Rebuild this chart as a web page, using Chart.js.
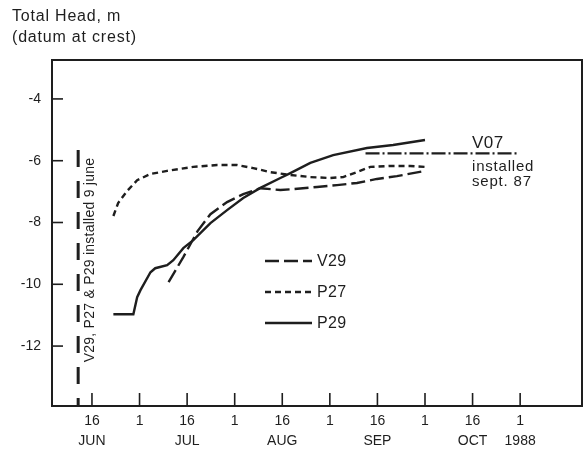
<!DOCTYPE html>
<html><head><meta charset="utf-8">
<script src="https://cdn.jsdelivr.net/npm/chart.js@4"></script>
<style>html,body{margin:0;padding:0;background:#fff;}#wrap{width:587px;height:456px;position:relative;}</style>
</head><body><div id="wrap"><canvas id="c" width="587" height="456"></canvas></div>
<script>
// x unit = half-month tick index (0 = 16 JUN, 1 = 1 JUL, ... 9 = 1 [1988])
const xTickPos   = [0,1,2,3,4,5,6,7,8,9];
const xTickDay   = ['16','1','16','1','16','1','16','1','16','1'];
const xTickMonth = ['JUN','','JUL','','AUG','','SEP','','OCT','1988'];
const yTicks     = [-12,-10,-8,-6,-4];

const p29X = [0.45,0.87,0.95,1.02,1.23,1.33,1.58,1.71,1.92,2.13,2.49,2.84,3.18,3.54,3.96,4.17,4.59,5.07,5.78,6.33,7.00];
const p29Y = [-10.97,-10.97,-10.42,-10.19,-9.61,-9.48,-9.38,-9.22,-8.83,-8.57,-8.02,-7.60,-7.21,-6.88,-6.56,-6.40,-6.07,-5.82,-5.59,-5.49,-5.33];

const p27X = [0.45,0.55,0.74,0.95,1.23,1.58,2.13,2.63,3.05,3.39,3.75,4.17,4.59,5.01,5.28,5.57,5.85,6.27,6.69,7.00];
const p27Y = [-7.79,-7.37,-6.98,-6.63,-6.43,-6.33,-6.20,-6.14,-6.14,-6.24,-6.37,-6.46,-6.53,-6.56,-6.53,-6.37,-6.20,-6.17,-6.17,-6.20];

const v29X = [1.61,1.92,2.22,2.49,2.84,3.18,3.54,3.96,4.23,4.73,5.15,5.57,5.99,6.41,7.00];
const v29Y = [-9.93,-9.12,-8.28,-7.73,-7.34,-7.08,-6.89,-6.95,-6.92,-6.85,-6.79,-6.72,-6.59,-6.50,-6.33];

const v07X = [5.75,8.96];
const v07Y = [-5.76,-5.76];

const installX = [-0.29,-0.29];
const installY = [-5.65,-13.94];

const pts = (xs, ys) => xs.map((x, i) => ({x, y: ys[i]}));
const INK = '#1e1e1e';
const FONT = '"Liberation Sans", Arial, Helvetica, sans-serif';

const datasets = [
  {label:'V29', data: pts(v29X, v29Y), borderDash:[14,5], borderWidth:2.4},
  {label:'P27', data: pts(p27X, p27Y), borderDash:[6,4], borderWidth:2.4},
  {label:'P29', data: pts(p29X, p29Y), borderDash:[], borderWidth:2.4},
  {label:'V07', data: pts(v07X, v07Y), borderDash:[14,3,2,3], borderWidth:2.2},
  {label:'install', data: pts(installX, installY), borderDash:[17,14], borderWidth:3}
].map(d => Object.assign({borderColor: INK, pointRadius: 0, tension: 0, fill: false, borderCapStyle:'butt'}, d));

function txt(ctx, s, x, y, sp) { ctx.letterSpacing = (sp || 0) + 'px'; ctx.fillText(s, x, y); ctx.letterSpacing = '0px'; }

const decor = {
  id: 'decor',
  afterDraw(chart) {
    const {ctx, chartArea: a, scales: {x, y}} = chart;
    ctx.save();
    ctx.strokeStyle = INK; ctx.fillStyle = INK;
    // frame
    ctx.lineWidth = 2;
    ctx.strokeRect(a.left, a.top, a.right - a.left, a.bottom - a.top);
    // inward tick marks
    ctx.lineWidth = 1.6;
    xTickPos.forEach(v => { const px = x.getPixelForValue(v); ctx.beginPath(); ctx.moveTo(px, a.bottom); ctx.lineTo(px, a.bottom - 13); ctx.stroke(); });
    yTicks.forEach(v => { const py = y.getPixelForValue(v); ctx.beginPath(); ctx.moveTo(a.left, py); ctx.lineTo(a.left + 11, py); ctx.stroke(); });
    // axis title
    ctx.font = '16px ' + FONT; ctx.textAlign = 'left'; ctx.textBaseline = 'middle';
    txt(ctx, 'Total Head, m', 12, 17, 0.8);
    txt(ctx, '(datum at crest)', 12, 38, 0.8);
    // rotated note
    ctx.save();
    ctx.translate(x.getPixelForValue(installX[0]) + 12, 260);
    ctx.rotate(-Math.PI / 2);
    ctx.font = '14px ' + FONT; ctx.textAlign = 'center';
    txt(ctx, 'V29, P27 & P29 installed 9 june', 0, 0, 0.25);
    ctx.restore();
    // V07 note
    ctx.textAlign = 'left';
    ctx.font = '17px ' + FONT;
    txt(ctx, 'V07', 472, 143, 0.5);
    ctx.font = '15px ' + FONT;
    txt(ctx, 'installed', 472, 167, 0.8);
    txt(ctx, 'sept. 87', 472, 182, 0.8);
    // legend
    const leg = [[0, 261], [1, 292], [2, 323]];
    leg.forEach(([i, ly]) => {
      const ds = chart.data.datasets[i];
      ctx.lineWidth = 2.4; ctx.setLineDash(ds.borderDash);
      ctx.beginPath(); ctx.moveTo(265, ly); ctx.lineTo(312, ly); ctx.stroke();
      ctx.setLineDash([]);
      ctx.font = '16px ' + FONT;
      txt(ctx, ds.label, 317, ly + 1, 0.3);
    });
    ctx.restore();
  }
};

new Chart(document.getElementById('c'), {
  type: 'line',
  data: { datasets },
  plugins: [decor],
  options: {
    responsive: false, animation: false,
    layout: { padding: { top: 60, left: 0, right: 5, bottom: 0 } },
    plugins: { legend: { display: false }, tooltip: { enabled: false } },
    scales: {
      x: {
        type: 'linear', min: -0.84, max: 10.3,
        grid: { display: false, drawTicks: false }, border: { display: false },
        afterBuildTicks: s => { s.ticks = xTickPos.map(v => ({value: v})); },
        afterFit: s => { s.height = 50; },
        ticks: {
          color: INK, padding: 5, maxRotation: 0, autoSkip: false,
          font: { family: FONT, size: 14, lineHeight: 1.45 },
          callback: (v) => { const i = xTickPos.indexOf(v); return i < 0 ? '' : [xTickDay[i], xTickMonth[i]]; }
        }
      },
      y: {
        type: 'linear', min: -13.94, max: -2.74,
        grid: { display: false, drawTicks: false }, border: { display: false },
        afterBuildTicks: s => { s.ticks = yTicks.map(v => ({value: v})); },
        afterFit: s => { s.width = 52; },
        ticks: { color: INK, padding: 11, font: { family: FONT, size: 14 }, callback: v => String(v) }
      }
    }
  }
});
</script></body></html>
